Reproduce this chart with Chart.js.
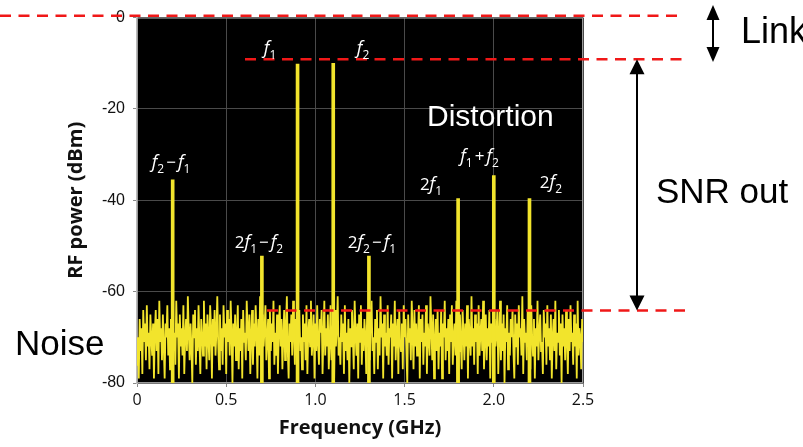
<!DOCTYPE html>
<html>
<head>
<meta charset="utf-8">
<script src="https://cdn.jsdelivr.net/npm/chart.js@4"></script>
<style>
  html, body { margin: 0; padding: 0; background: #fff; }
  #wrap { width: 803px; height: 447px; }
</style>
</head>
<body>
<div id="wrap"><canvas id="myChart" width="803" height="447"></canvas></div>
<script>
const noiseStep = 0.005; // GHz
const noiseDb = [
  -76, -70, -79, -66, -73, -68, -78, -64, -71, -67, -75, -63, -72, -69, -77, -65, -70, -74, -67, -79,
  -69, -64, -73, -66, -78, -62, -71, -68, -75, -65, -72, -79, -67, -70, -63, -74, -68, -77, -66, -71,
  -64, -73, -69, -76, -62, -70, -67, -79, -65, -72, -68, -74, -63, -78, -70, -66, -73, -61, -69, -75,
  -67, -72, -80, -65, -70, -64, -76, -68, -73, -63, -71, -78, -66, -69, -74, -62, -72, -67, -77, -65,
  -70, -75, -63, -68, -79, -66, -72, -64, -74, -69, -61, -71, -77, -65, -73, -68, -76, -63, -70, -67,
  -78, -64, -71, -66, -74, -62, -69, -80, -67, -72, -65, -75, -70, -63, -77, -68, -73, -66, -79, -64,
  -71, -69, -75, -62, -68, -73, -65, -78, -70, -64, -76, -67, -72, -63, -69, -79, -66, -74, -61, -70,
  -77, -65, -72, -68, -63, -75, -70, -66, -79, -64, -73, -67, -71, -62, -76, -69, -74, -65, -78, -68,
  -63, -72, -66, -77, -70, -64, -75, -68, -61, -73, -79, -67, -71, -65, -74, -62, -69, -76, -66, -72,
  -80, -68, -64, -73, -70, -77, -65, -71, -67, -75, -63, -78, -69, -66, -72, -62, -74, -70, -65, -79,
  -67, -73, -63, -71, -76, -66, -69, -64, -78, -70, -62, -74, -68, -72, -65, -77, -71, -63, -75, -69,
  -66, -79, -64, -72, -68, -61, -74, -70, -76, -65, -71, -67, -78, -63, -73, -69, -75, -66, -80, -68,
  -72, -64, -70, -77, -62, -69, -74, -67, -79, -65, -71, -63, -76, -68, -73, -66, -70, -78, -64, -72,
  -69, -75, -65, -62, -73, -70, -78, -66, -71, -64, -77, -68, -74, -61, -70, -67, -79, -65, -72, -69,
  -74, -63, -76, -68, -70, -65, -79, -67, -72, -62, -75, -69, -66, -78, -64, -71, -73, -67, -77, -63,
  -70, -66, -73, -80, -65, -71, -68, -75, -62, -69, -77, -64, -72, -67, -74, -70, -63, -79, -66, -71,
  -65, -76, -69, -72, -63, -78, -67, -70, -74, -61, -68, -75, -65, -79, -71, -66, -73, -64, -77, -69,
  -72, -64, -79, -67, -70, -62, -75, -68, -73, -66, -78, -65, -71, -63, -76, -70, -67, -74, -62, -80,
  -68, -73, -65, -71, -77, -64, -69, -75, -67, -72, -63, -79, -66, -70, -74, -61, -72, -68, -76, -65,
  -71, -67, -78, -63, -74, -69, -66, -73, -62, -77, -70, -65, -75, -68, -72, -64, -79, -67, -71, -63,
  -76, -66, -72, -69, -64, -78, -70, -62, -75, -67, -73, -65, -80, -68, -71, -63, -77, -69, -74, -66,
  -70, -64, -73, -79, -65, -72, -67, -76, -63, -70, -68, -74, -61, -78, -66, -71, -69, -75, -64, -72,
  -67, -77, -63, -70, -74, -66, -79, -68, -72, -62, -75, -69, -65, -73, -71, -78, -64, -70, -67, -76,
  -63, -72, -68, -75, -65, -79, -70, -66, -73, -62, -77, -69, -71, -64, -74, -67, -80, -65, -72, -68,
  -75, -64, -70, -78, -66, -73, -63, -71, -69, -76, -65, -72, -67, -79, -62, -74, -68, -70, -77, -66,
  -71
];

const spikeFreq = [0.2, 0.7, 0.9, 1.1, 1.3, 1.8, 2.0, 2.2];
const spikePeak = [-35.5, -52.2, -10.2, -10.0, -52.2, -39.6, -34.6, -39.6];
const spikeLabels = ['f2−f1', '2f1−f2', 'f1', 'f2', '2f2−f1', '2f1', 'f1+f2', '2f2'];
const spikeFloor = -80;

const xTicks = [0, 0.5, 1, 1.5, 2, 2.5];
const yTicks = [0, -20, -40, -60, -80];

const YELLOW = '#f2e42c';
const RED = '#f01818';

// where the tone names sit (GHz, dBm of the text baseline)
const labelPos = [[0.191, -33.0], [0.684, -50.5], [0.746, -7.9], [1.267, -7.9],
                  [1.317, -50.5], [1.648, -37.8], [1.92, -31.7], [2.32, -37.4]];

function drawMathLabel(ctx, text, cx, baseY) {
    const parts = [];
    for (let i = 0; i < text.length; i++) {
        const ch = text[i];
        if (ch === 'f') {
            parts.push({ t: 'f', font: 'italic 18px "Open Sans"', dy: 0, pad: 0 });
        } else if (/\d/.test(ch) && text[i - 1] === 'f') {
            parts.push({ t: ch, font: '12px "Open Sans"', dy: 5, pad: 0 });
        } else if (ch === '−' || ch === '+') {
            parts.push({ t: ch, font: '17px "Open Sans"', dy: 0, pad: 2 });
        } else {
            parts.push({ t: ch, font: '17px "Open Sans"', dy: 0, pad: 0 });
        }
    }
    let w = 0;
    parts.forEach(p => {
        ctx.font = p.font;
        p.w = ctx.measureText(p.t).width + p.pad * 2;
        w += p.w;
    });
    let x = cx - w / 2;
    parts.forEach(p => {
        ctx.font = p.font;
        ctx.fillText(p.t, x + p.pad, baseY + p.dy);
        x += p.w;
    });
}

function drawArrow(ctx, x, yTop, yBottom, headW, headL) {
    ctx.strokeStyle = '#000';
    ctx.fillStyle = '#000';
    ctx.lineWidth = 2;
    ctx.beginPath();
    ctx.moveTo(x, yTop + headL - 1);
    ctx.lineTo(x, yBottom - headL + 1);
    ctx.stroke();
    ctx.beginPath();
    ctx.moveTo(x, yTop);
    ctx.lineTo(x - headW / 2, yTop + headL);
    ctx.lineTo(x + headW / 2, yTop + headL);
    ctx.closePath();
    ctx.fill();
    ctx.beginPath();
    ctx.moveTo(x, yBottom);
    ctx.lineTo(x - headW / 2, yBottom - headL);
    ctx.lineTo(x + headW / 2, yBottom - headL);
    ctx.closePath();
    ctx.fill();
}

function dashLine(ctx, x1, x2, y) {
    ctx.save();
    ctx.strokeStyle = RED;
    ctx.lineWidth = 2.5;
    ctx.setLineDash([11, 7.5]);
    ctx.beginPath();
    ctx.moveTo(x1, y);
    ctx.lineTo(x2, y);
    ctx.stroke();
    ctx.restore();
}

const bgPlugin = {
    id: 'bg',
    beforeDraw(chart) {
        const { ctx, chartArea: a } = chart;
        ctx.save();
        ctx.fillStyle = '#fff';
        ctx.fillRect(0, 0, chart.width, chart.height);
        ctx.fillStyle = '#000';
        ctx.fillRect(a.left, a.top, a.right - a.left, a.bottom - a.top);
        ctx.restore();
    },
    beforeDatasetsDraw(chart) {
        const { ctx, chartArea: a } = chart;
        ctx.save();
        ctx.strokeStyle = '#9a9a9a';
        ctx.lineWidth = 1;
        ctx.strokeRect(a.left + 0.5, a.top + 0.5, a.right - a.left - 1, a.bottom - a.top - 1);
        ctx.restore();
    }
};

const annotPlugin = {
    id: 'annot',
    afterDraw(chart) {
        const { ctx, scales } = chart;
        const xs = scales.x, ys = scales.y;
        const yLink = ys.getPixelForValue(0.4);
        const yTone = ys.getPixelForValue(-9.1);
        const yNoise = ys.getPixelForValue(-64.1);

        dashLine(ctx, 0, 684, yLink);
        dashLine(ctx, 245, 686, yTone);
        dashLine(ctx, 267, 686, yNoise);

        drawArrow(ctx, 713, 5, 62, 13, 15);
        drawArrow(ctx, 637, yTone, yNoise, 15, 15);

        ctx.save();
        ctx.fillStyle = '#000';
        ctx.textBaseline = 'alphabetic';
        ctx.textAlign = 'left';
        ctx.font = '36px "Liberation Sans"';
        ctx.fillText('Link', 741, 43);
        ctx.font = '35px "Liberation Sans"';
        ctx.fillText('SNR out', 656, 203);
        ctx.fillText('Noise', 15, 355);
        ctx.fillStyle = '#fff';
        ctx.font = '30px "Liberation Sans"';
        ctx.fillText('Distortion', 427, 126);

        ctx.fillStyle = '#fff';
        spikeLabels.forEach((lbl, i) => {
            const [gx, db] = labelPos[i];
            drawMathLabel(ctx, lbl, xs.getPixelForValue(gx), ys.getPixelForValue(db));
        });
        ctx.restore();
    }
};

const noisePoints = noiseDb.map((v, i) => ({ x: i * noiseStep, y: v }));
const spikeBars = spikeFreq.map((f, i) => ({ x: f, y: [spikeFloor, spikePeak[i]] }));

const ctx = document.getElementById('myChart').getContext('2d');
new Chart(ctx, {
    data: {
        datasets: [
            {
                type: 'line',
                label: 'Noise',
                data: noisePoints,
                borderColor: YELLOW,
                borderWidth: 1.8,
                pointRadius: 0,
                tension: 0,
                order: 2
            },
            {
                type: 'bar',
                label: 'Tones',
                data: spikeBars,
                backgroundColor: YELLOW,
                borderWidth: 0,
                barThickness: 3,
                grouped: false,
                order: 1
            }
        ]
    },
    options: {
        responsive: false,
        animation: false,
        devicePixelRatio: 1,
        layout: { padding: { left: 64, right: 220, top: 17, bottom: 7 } },
        plugins: {
            legend: { display: false },
            tooltip: { enabled: false }
        },
        scales: {
            x: {
                type: 'linear',
                min: 0,
                max: 2.5,
                offset: false,
                afterBuildTicks: scale => { scale.ticks = xTicks.map(v => ({ value: v })); },
                afterFit: scale => { scale.height = 57; },
                ticks: {
                    color: '#111',
                    padding: 4,
                    maxRotation: 0,
                    font: { family: '"Open Sans"', size: 16 }
                },
                grid: { color: '#4a4a4a', tickColor: '#888', tickLength: 4, offset: false },
                border: { color: '#777' },
                title: {
                    display: true,
                    text: 'Frequency (GHz)',
                    color: '#111',
                    padding: 0,
                    font: { family: '"Open Sans"', size: 20, weight: 'bold' }
                }
            },
            y: {
                type: 'linear',
                min: -80,
                max: 0,
                afterBuildTicks: scale => { scale.ticks = yTicks.map(v => ({ value: v })); },
                afterFit: scale => { scale.width = 73; },
                ticks: {
                    color: '#111',
                    padding: 8,
                    font: { family: '"Liberation Sans"', size: 16 }
                },
                grid: { color: '#4a4a4a', tickColor: '#888', tickLength: 4 },
                border: { color: '#bbb', width: 2 },
                title: {
                    display: true,
                    text: 'RF power (dBm)',
                    color: '#111',
                    padding: 0,
                    font: { family: '"Open Sans"', size: 20, weight: 'bold' }
                }
            }
        }
    },
    plugins: [bgPlugin, annotPlugin]
});
</script>
</body>
</html>
